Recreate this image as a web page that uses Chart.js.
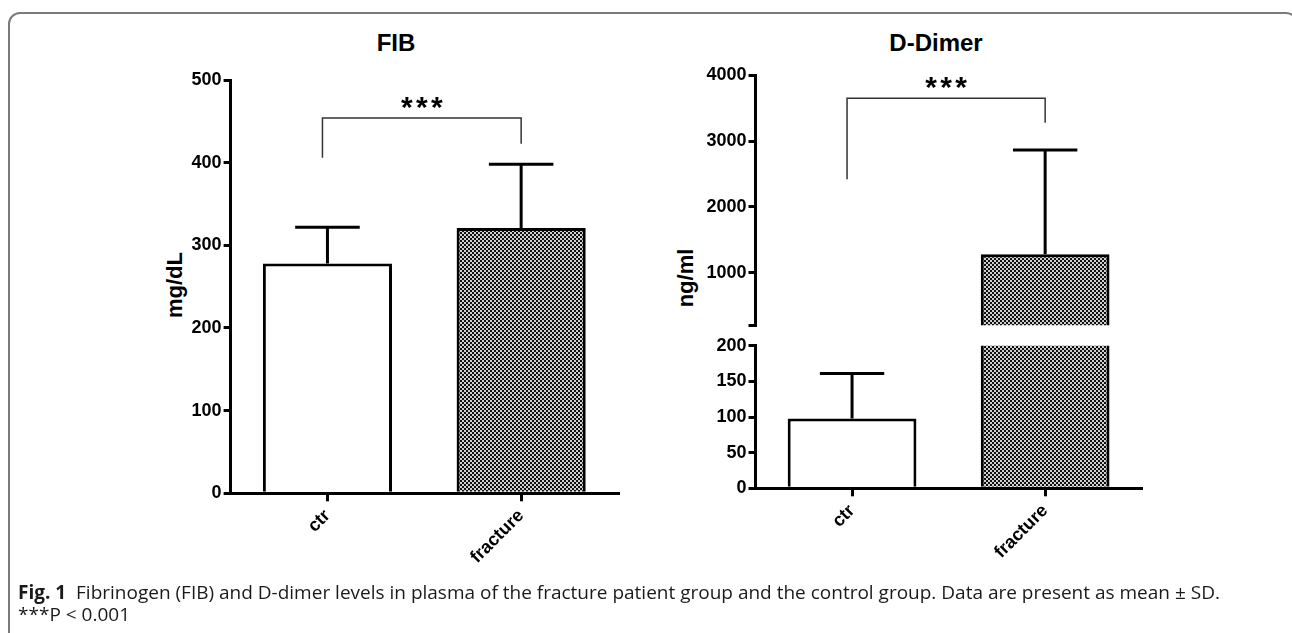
<!DOCTYPE html>
<html>
<head>
<meta charset="utf-8">
<script src="https://cdn.jsdelivr.net/npm/chart.js@4.4.0/dist/chart.umd.min.js"></script>
<style>
  body { margin: 0; background: #fff; width: 1292px; height: 633px; overflow: hidden; position: relative;
         font-family: "Liberation Sans", Arial, sans-serif; color: #000; }
  .frame { position: absolute; left: 8px; top: 12px; width: 1290px; height: 700px;
           border: 2px solid #7a7a7a; border-radius: 12px; box-sizing: border-box; }
  .box { position: absolute; }
  .title { position: absolute; font-weight: bold; font-size: 24px; transform: translate(-50%, -50%); white-space: nowrap; }
  .ylab { position: absolute; font-weight: bold; font-size: 22px; white-space: nowrap;
          transform: translate(-50%, -50%) rotate(-90deg); }
  .caption { position: absolute; left: 18px; top: 581px; font-family: "Open Sans", sans-serif;
             font-size: 19px; line-height: 22px; color: #1a1a1a; white-space: nowrap; }
</style>
</head>
<body>
<div class="frame"></div>

<div class="title" style="left:396px; top:43px;">FIB</div>
<div class="title" style="left:936px; top:43px;">D-Dimer</div>
<div class="ylab" style="left:175px; top:285px;">mg/dL</div>
<div class="ylab" style="left:686px; top:278px;">ng/ml</div>

<div class="box" style="left:0; top:0;"><canvas id="fibChart" width="660" height="580"></canvas></div>
<div class="box" style="left:660px; top:0;"><canvas id="ddTopChart" width="632" height="340"></canvas></div>
<div class="box" style="left:660px; top:330px;"><canvas id="ddBotChart" width="632" height="250"></canvas></div>

<div class="caption"><b>Fig. 1</b>&nbsp; Fibrinogen (FIB) and D-dimer levels in plasma of the fracture patient group and the control group. Data are present as mean ± SD.<br>***P &lt; 0.001</div>

<script>
// groups
const groups = ['ctr', 'fracture'];

// FIB (mg/dL), mean and SD
const fibMean = [278, 321];
const fibSD = [44, 77];
const fibTicks = [0, 100, 200, 300, 400, 500];
// significance bracket: left leg end, bar height, right leg end, stars
const fibBracket = [406, 454, 423, 474];

// D-Dimer (ng/ml), mean and SD
const ddMean = [98, 1280];
const ddSD = [63, 1585];
const ddLowTicks = [0, 50, 100, 150, 200];
const ddHighTicks = [200, 1000, 2000, 3000, 4000];
const ddBracket = [2420, 3650, 3280, 3913];

const FONT = '"Liberation Sans", Arial, sans-serif';

// checkered fill like the GraphPad pattern
function makePattern() {
    const c = document.createElement('canvas');
    c.width = 4; c.height = 4;
    const g = c.getContext('2d');
    g.fillStyle = '#cfcfcf';
    g.fillRect(0, 0, 4, 4);
    g.fillStyle = '#111';
    g.fillRect(0, 0, 2, 2);
    g.fillRect(2, 2, 2, 2);
    return g.createPattern(c, 'repeat');
}
const pattern = makePattern();

// upward SD whiskers
const errBars = {
    id: 'errBars',
    afterDatasetsDraw(chart, args, opts) {
        const ctx = chart.ctx;
        const y = chart.scales.y;
        const meta = chart.getDatasetMeta(0);
        ctx.save();
        ctx.strokeStyle = '#000';
        ctx.lineWidth = 3;
        opts.mean.forEach((m, i) => {
            const top = m + opts.sd[i];
            if (m < y.min || top > y.max) return;
            const bar = meta.data[i];
            const yb = y.getPixelForValue(m);
            const yt = y.getPixelForValue(top);
            const half = bar.width / 4;
            ctx.beginPath();
            ctx.moveTo(bar.x, yb);
            ctx.lineTo(bar.x, yt);
            ctx.moveTo(bar.x - half, yt);
            ctx.lineTo(bar.x + half, yt);
            ctx.stroke();
        });
        ctx.restore();
    }
};

// *** bracket between the two bars
const sigBracket = {
    id: 'sigBracket',
    afterDraw(chart, args, opts) {
        if (!opts.vals) return;
        const ctx = chart.ctx;
        const y = chart.scales.y;
        const meta = chart.getDatasetMeta(0);
        const x0 = meta.data[0].x - 5, x1 = meta.data[1].x;
        const [l, h, r, s] = opts.vals.map(v => y.getPixelForValue(v));
        ctx.save();
        ctx.strokeStyle = '#333';
        ctx.lineWidth = 1.5;
        ctx.beginPath();
        ctx.moveTo(x0, l);
        ctx.lineTo(x0, h);
        ctx.lineTo(x1, h);
        ctx.lineTo(x1, r);
        ctx.stroke();
        ctx.fillStyle = '#000';
        ctx.font = 'bold 30px ' + FONT;
        ctx.textAlign = 'center';
        ctx.textBaseline = 'alphabetic';
        const mid = (x0 + x1) / 2;
        [-15, 0, 15].forEach(dx => ctx.fillText('*', mid + dx, s + 16));
        ctx.restore();
    }
};

function yScale(min, max, ticks, width, showZeroLabel) {
    return {
        min: min, max: max,
        afterBuildTicks: s => { s.ticks = ticks.map(v => ({ value: v })); },
        afterFit: s => { s.width = width; },
        border: { display: true, color: '#000', width: 3 },
        grid: { drawOnChartArea: false, drawTicks: true, tickLength: 7, lineWidth: 3, color: '#000' },
        ticks: {
            color: '#000', padding: 2,
            font: { family: FONT, size: 18, weight: 'bold' },
            callback: v => (showZeroLabel || v !== min) ? v : ''
        }
    };
}

function xScale(height) {
    return {
        offset: true,
        afterFit: s => { s.height = height; },
        border: { display: true, color: '#000', width: 3 },
        grid: { drawOnChartArea: false, drawTicks: true, tickLength: 8, lineWidth: 3, color: '#000', offset: false },
        ticks: {
            color: '#000', padding: 4, autoSkip: false,
            minRotation: 45, maxRotation: 45,
            font: { family: FONT, size: 18, weight: 'bold' }
        }
    };
}

function barDataset(values) {
    return {
        data: values,
        backgroundColor: ['#fff', pattern],
        borderColor: '#000',
        borderWidth: 3,
        borderSkipped: 'start',
        barPercentage: 2 / 3,
        categoryPercentage: 1
    };
}

function makeChart(id, values, sd, bracket, scales, padding) {
    return new Chart(document.getElementById(id), {
        type: 'bar',
        data: { labels: groups, datasets: [barDataset(values)] },
        options: {
            responsive: false,
            animation: false,
            layout: { padding: padding },
            plugins: {
                legend: { display: false },
                tooltip: { enabled: false },
                errBars: { mean: values, sd: sd },
                sigBracket: { vals: bracket }
            },
            scales: scales
        },
        plugins: [errBars, sigBracket]
    });
}

makeChart('fibChart', fibMean, fibSD, fibBracket, {
    x: xScale(86.7),
    y: yScale(0, 500, fibTicks, 230.6, true)
}, { top: 80, right: 42, left: 0, bottom: 0 });

const topX = xScale(0);
topX.display = false;
makeChart('ddTopChart', ddMean, ddSD, ddBracket, {
    x: topX,
    y: yScale(200, 4000, ddHighTicks, 95.5, false)
}, { top: 75.3, right: 150.3, left: 0, bottom: 14.7 });

makeChart('ddBotChart', ddMean, ddSD, null, {
    x: xScale(91.7),
    y: yScale(0, 200, ddLowTicks, 95.5, true)
}, { top: 15.7, right: 150.3, left: 0, bottom: 0 });
</script>
</body>
</html>
